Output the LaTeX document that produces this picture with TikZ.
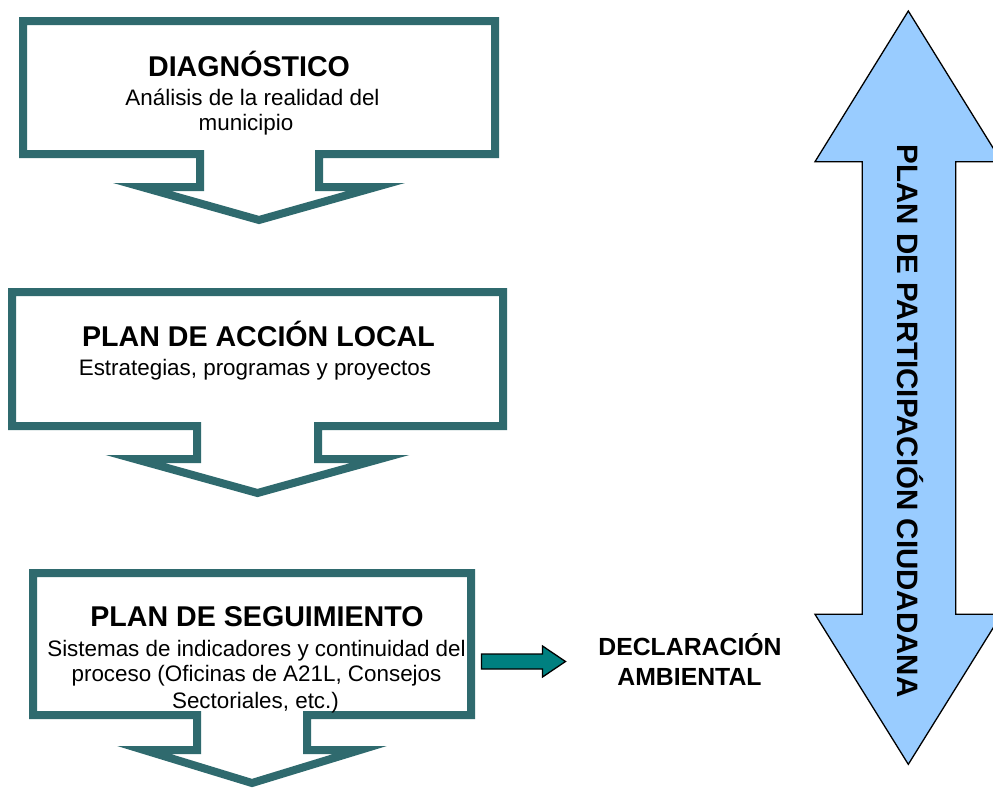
\documentclass[tikz,border=0pt]{standalone}
\usepackage{fontspec}
\setmainfont{Liberation Sans}
\definecolor{callteal}{RGB}{47,106,110}
\definecolor{smallteal}{RGB}{0,128,128}
\definecolor{lightblue}{RGB}{153,204,255}
\tikzset{
  callout/.style={draw=callteal, line width=8pt, line join=miter, miter limit=12, fill=white},
  bigarrow/.style={draw=black, line width=1.3pt, line join=miter, fill=lightblue},
  smallarrow/.style={draw=black, line width=1.3pt, line join=miter, fill=smallteal},
  title/.style={inner sep=0pt, anchor=base, font=\fontsize{28.6}{33}\selectfont\bfseries},
  vtitle/.style={inner sep=0pt, anchor=base, font=\fontsize{29.5}{34}\selectfont\bfseries},
  sub/.style={inner sep=0pt, anchor=base, font=\fontsize{22.4}{26}\selectfont},
  decl/.style={inner sep=0pt, anchor=base, font=\fontsize{24.8}{29}\selectfont\bfseries},
}
\begin{document}
\begin{tikzpicture}[x=1pt,y=-1pt]
\useasboundingbox (0,0) rectangle (993,787);
\clip (0,0) rectangle (993,787);
\fill[white] (0,0) rectangle (993,787);

% callout 1
\draw[callout] (23,21) -- (495,21) -- (495,154) -- (319,154) -- (319,187) -- (376,187)
  -- (259,220) -- (142,187) -- (200,187) -- (200,154) -- (23,154) -- cycle;
% callout 2
\draw[callout] (12,292) -- (503,292) -- (503,426) -- (318,426) -- (318,459) -- (380,459)
  -- (257.5,493) -- (135,459) -- (197,459) -- (197,426) -- (12,426) -- cycle;
% callout 3
\draw[callout] (33,573) -- (471,573) -- (471,715) -- (307,715) -- (307,750) -- (360,750)
  -- (252,783) -- (144,750) -- (197,750) -- (197,715) -- (33,715) -- cycle;

% big double arrow
\draw[bigarrow] (908.3,11) -- (1001.6,161.7) -- (955.7,161.7) -- (955.7,614.3) -- (1001.6,614.3)
  -- (908.3,764.3) -- (815,614.3) -- (862.3,614.3) -- (862.3,161.7) -- (815,161.7) -- cycle;

% small arrow
\draw[smallarrow] (481.5,654) -- (542.5,654) -- (542.5,646) -- (565.5,661.5) -- (542.5,677)
  -- (542.5,669) -- (481.5,669) -- cycle;

% texts
\node[title] (t1) at (249,76) {DIAGNÓSTICO};
\node[sub] (s1a) at (252.5,105) {Análisis de la realidad del};
\node[sub] (s1b) at (246,130) {municipio};

\node[title] (t2) at (258.5,346) {PLAN DE ACCIÓN LOCAL};
\node[sub] (s2a) at (255,375) {Estrategias, programas y proyectos};

\node[title] (t3) at (257,626) {PLAN DE SEGUIMIENTO};
\node[sub] (s3a) at (256.5,656) {Sistemas de indicadores y continuidad del};
\node[sub] (s3b) at (256.5,681) {proceso (Oficinas de A21L, Consejos};
\node[sub] (s3c) at (255.5,708) {Sectoriales, etc.)};

\node[decl] (d1) at (690,655) {DECLARACIÓN};
\node[decl] (d2) at (689.5,685) {AMBIENTAL};

\node[vtitle, rotate=-90] (pp) at (897,421) {PLAN DE PARTICIPACIÓN CIUDADANA};
\end{tikzpicture}
\end{document}
